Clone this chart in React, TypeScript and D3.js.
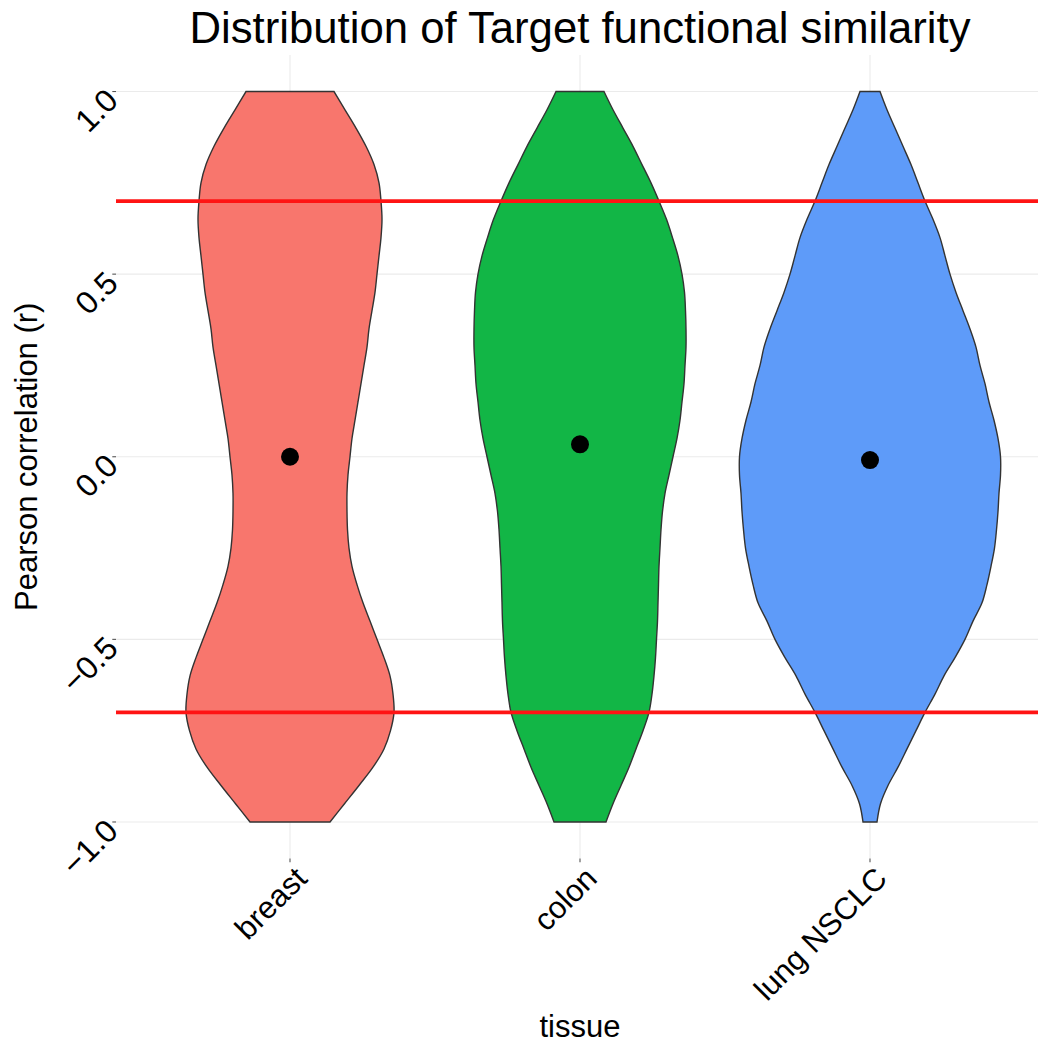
import React from "react";
import * as d3 from "d3";

// ---- data ----
const categories = ["breast", "colon", "lung NSCLC"];
const fills = ["#F8766D", "#12B646", "#5E9BF9"];

// grid of correlation values for the violin densities (from -1 to 1 in 0.05 steps)
const gridValues = [
  -1.0, -0.95, -0.9, -0.85, -0.8, -0.75, -0.7, -0.65, -0.6, -0.55, -0.5, -0.45, -0.4, -0.35,
  -0.3, -0.25, -0.2, -0.15, -0.1, -0.05, 0.0, 0.05, 0.1, 0.15, 0.2, 0.25, 0.3, 0.35, 0.4,
  0.45, 0.5, 0.55, 0.6, 0.65, 0.7, 0.75, 0.8, 0.85, 0.9, 0.95, 1.0,
];

// relative kernel density estimates
const breastDensity = [
  0.40, 0.545, 0.69, 0.83, 0.94, 1.005, 1.04, 1.03, 1.00, 0.94, 0.87, 0.80, 0.73, 0.67,
  0.62, 0.59, 0.575, 0.57, 0.57, 0.58, 0.60, 0.62, 0.65, 0.68, 0.71, 0.74, 0.77, 0.79, 0.82,
  0.85, 0.87, 0.89, 0.91, 0.92, 0.91, 0.89, 0.84, 0.76, 0.66, 0.55, 0.44,
];
const colonDensity = [
  0.26, 0.33, 0.41, 0.49, 0.56, 0.63, 0.69, 0.72, 0.74, 0.755, 0.765, 0.775, 0.78, 0.785,
  0.79, 0.80, 0.81, 0.825, 0.85, 0.89, 0.93, 0.97, 1.00, 1.02, 1.04, 1.05, 1.06, 1.06, 1.055,
  1.045, 1.02, 0.98, 0.925, 0.865, 0.79, 0.71, 0.62, 0.53, 0.43, 0.33, 0.24,
];
const lungDensity = [
  0.07, 0.105, 0.18, 0.28, 0.37, 0.46, 0.55, 0.65, 0.74, 0.85, 0.95, 1.03, 1.12, 1.17,
  1.21, 1.245, 1.265, 1.28, 1.29, 1.305, 1.305, 1.28, 1.24, 1.19, 1.15, 1.10, 1.06, 1.00, 0.93,
  0.86, 0.80, 0.75, 0.70, 0.63, 0.55, 0.48, 0.41, 0.33, 0.25, 0.17, 0.10,
];
const densities = [breastDensity, colonDensity, lungDensity];

// mean correlation per tissue (black dots)
const means = [0.0, 0.034, -0.009];

// reference thresholds (red lines)
const thresholds = [0.7, -0.7];

const yTicks = [-1.0, -0.5, 0.0, 0.5, 1.0];
const yTickLabels = ["\u22121.0", "\u22120.5", "0.0", "0.5", "1.0"];

const title = "Distribution of Target functional similarity";
const xTitle = "tissue";
const yTitle = "Pearson correlation (r)";

// ---- layout ----
const W = 1038;
const H = 1044;
const panel = { left: 116, right: 1044, top: 55, bottom: 858.5 };
const font = "'Liberation Sans', Arial, Helvetica, sans-serif";

export default function App() {
  const x = d3
    .scalePoint<string>()
    .domain(categories)
    .range([panel.left, panel.right])
    .padding(0.6);
  const y = d3.scaleLinear().domain([-1.1, 1.1]).range([panel.bottom, panel.top]);

  const maxDensity = d3.max(densities.flat()) as number;
  const w = d3.scaleLinear().domain([0, maxDensity]).range([0, 0.45 * x.step()]);

  const violins = categories.map((c, i) => {
    const cx = x(c) as number;
    const pts = gridValues.map((v, j) => ({ v, d: densities[i][j] }));
    const area = d3
      .area<{ v: number; d: number }>()
      .y((p) => y(p.v))
      .x0((p) => cx - w(p.d))
      .x1((p) => cx + w(p.d))
      .curve(d3.curveCatmullRom.alpha(0.5));
    return { c, cx, path: area(pts) as string, fill: fills[i] };
  });

  return (
    <svg
      width={W}
      height={H}
      style={{ position: "absolute", left: 0, top: 0, background: "#fff" }}
      fontFamily={font}
    >
      <rect x={0} y={0} width={W} height={H} fill="#fff" />
      {/* grid */}
      {yTicks.map((t) => (
        <line
          key={"gy" + t}
          x1={panel.left}
          x2={panel.right}
          y1={y(t)}
          y2={y(t)}
          stroke="#EBEBEB"
          strokeWidth={1.1}
        />
      ))}
      {categories.map((c) => (
        <line
          key={"gx" + c}
          x1={x(c)}
          x2={x(c)}
          y1={panel.top}
          y2={panel.bottom}
          stroke="#EBEBEB"
          strokeWidth={1.1}
        />
      ))}
      {/* violins */}
      {violins.map((vi) => (
        <path key={vi.c} d={vi.path} fill={vi.fill} stroke="#333333" strokeWidth={1.4} />
      ))}
      {/* mean points */}
      {categories.map((c, i) => (
        <circle key={"m" + c} cx={x(c)} cy={y(means[i])} r={9} fill="#000" />
      ))}
      {/* threshold lines */}
      {thresholds.map((t) => (
        <line
          key={"h" + t}
          x1={panel.left}
          x2={panel.right}
          y1={y(t)}
          y2={y(t)}
          stroke="#FF1414"
          strokeWidth={3.6}
        />
      ))}
      {/* y axis ticks & labels */}
      {yTicks.map((t, i) => (
        <g key={"yt" + t}>
          <line x1={panel.left - 3.7} x2={panel.left} y1={y(t)} y2={y(t)} stroke="#555" strokeWidth={1.1} />
          <text
            transform={`translate(${panel.left - 4},${y(t) + 3}) rotate(-45)`}
            textAnchor="end"
            dy="0.35em"
            fontSize={32}
            fill="#000"
          >
            {yTickLabels[i]}
          </text>
        </g>
      ))}
      {/* x axis ticks & labels */}
      {categories.map((c) => (
        <g key={"xt" + c}>
          <line
            x1={x(c)}
            x2={x(c)}
            y1={panel.bottom}
            y2={panel.bottom + 3.7}
            stroke="#555"
            strokeWidth={1.1}
          />
          <text
            transform={`translate(${(x(c) as number) + 3},${panel.bottom + 6}) rotate(-45)`}
            textAnchor="end"
            dy="0.72em"
            fontSize={31}
            fill="#000"
          >
            {c}
          </text>
        </g>
      ))}
      {/* titles */}
      <text x={(panel.left + panel.right) / 2} y={43} textAnchor="middle" fontSize={43.7} fill="#000">
        {title}
      </text>
      <text x={(panel.left + panel.right) / 2} y={1037} textAnchor="middle" fontSize={31} fill="#000">
        {xTitle}
      </text>
      <text
        transform={`translate(37,${(panel.top + panel.bottom) / 2}) rotate(-90)`}
        textAnchor="middle"
        fontSize={31}
        fill="#000"
      >
        {yTitle}
      </text>
    </svg>
  );
}
